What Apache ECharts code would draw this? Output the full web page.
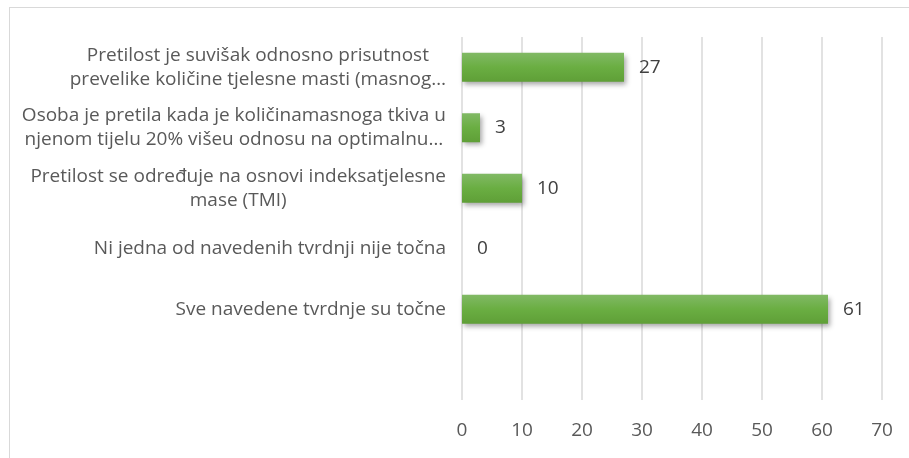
<!DOCTYPE html>
<html>
<head>
<meta charset="utf-8">
<script src="https://cdn.jsdelivr.net/npm/echarts@6/dist/echarts.min.js"></script>
<style>
html, body { margin: 0; padding: 0; background: #fff; overflow: hidden; }
#frame { position: absolute; left: 9px; top: 7px; width: 920px; height: 470px; border: 1px solid #d9d9d9; }
#chart { position: absolute; left: 0; top: 0; width: 909px; height: 458px; }
</style>
</head>
<body>
<div id="frame"></div>
<div id="chart"></div>
<script>
// odgovori (odozgo prema dolje)
const categories = [
	"Pretilost je suvišak odnosno prisutnost\nprevelike količine tjelesne masti (masnog…",
	"Osoba je pretila kada je količinamasnoga tkiva u\nnjenom tijelu 20% višeu odnosu na optimalnu…",
	"Pretilost se određuje na osnovi indeksatjelesne\nmase (TMI)",
	"Ni jedna od navedenih tvrdnji nije točna",
	"Sve navedene tvrdnje su točne"
];
const values = [27, 3, 10, 0, 61];
const xTicks = [0, 10, 20, 30, 40, 50, 60, 70];

// Excel ostavlja prazan red na dnu
const yData = categories.concat([""]);
const barData = values.concat([null]);

const chart = echarts.init(document.getElementById("chart"));
const font = "'Open Sans', sans-serif";

const option = {
	animation: false,
	grid: {
		left: 462,
		right: 27,
		top: 37,
		bottom: 58
	},
	xAxis: {
		type: "value",
		min: xTicks[0],
		max: xTicks[xTicks.length - 1],
		interval: 10,
		axisLine: { show: false },
		axisTick: { show: false },
		axisLabel: {
			margin: 21,
			color: "#595959",
			fontSize: 19,
			fontFamily: font
		},
		splitLine: {
			lineStyle: { color: "#d9d9d9", width: 1.5 }
		}
	},
	yAxis: {
		type: "category",
		inverse: true,
		data: yData,
		axisLine: { show: false },
		axisTick: { show: false },
		axisLabel: {
			margin: 16,
			align: "right",
			formatter: function (v) {
				return v.split("\n").map(function (s) { return "{c|" + s + "}"; }).join("\n");
			},
			rich: {
				c: {
					align: "center",
					color: "#595959",
					fontSize: 19,
					lineHeight: 24,
					fontFamily: font
				}
			}
		}
	},
	series: [
		{
			type: "bar",
			data: barData,
			barWidth: 29,
			itemStyle: {
				color: {
					type: "linear", x: 0, y: 0, x2: 0, y2: 1,
					colorStops: [
						{ offset: 0, color: "#81b965" },
						{ offset: 0.5, color: "#6aae42" },
						{ offset: 1, color: "#5f9f37" }
					]
				},
				shadowColor: "rgba(0,0,0,0.35)",
				shadowBlur: 5,
				shadowOffsetX: 2,
				shadowOffsetY: 3
			},
			label: {
				show: true,
				position: "right",
				distance: 15,
				color: "#404040",
				fontSize: 19,
				fontFamily: font
			}
		}
	]
};

chart.setOption(option);
</script>
</body>
</html>
